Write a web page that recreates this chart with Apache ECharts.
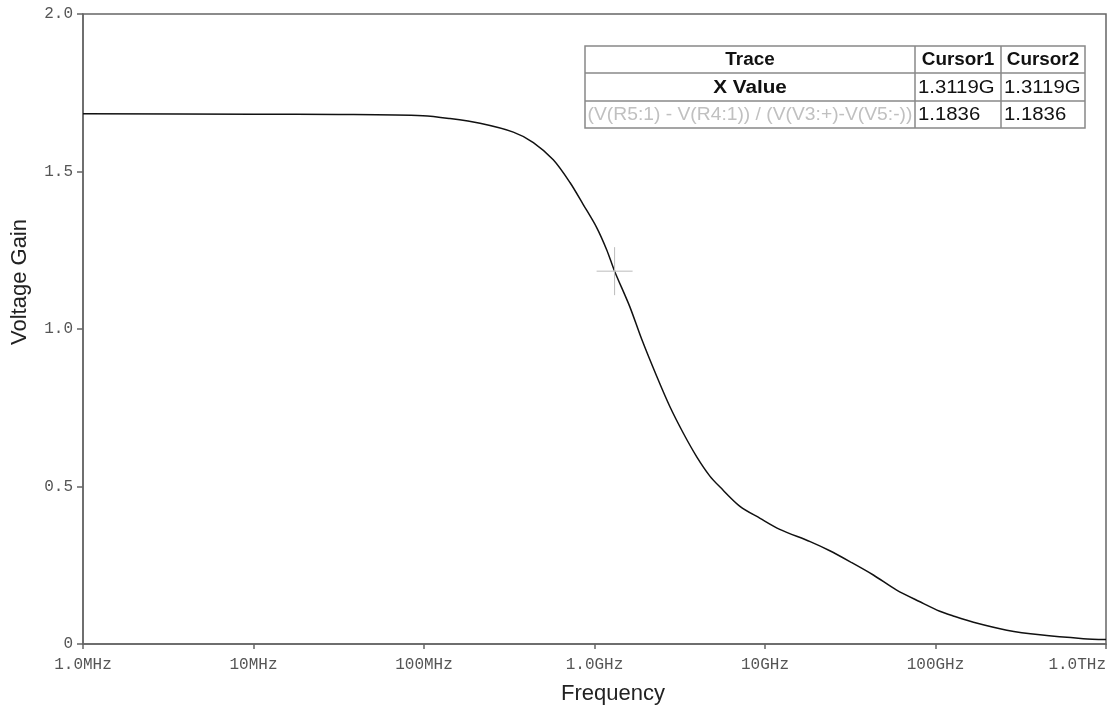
<!DOCTYPE html>
<html>
<head>
<meta charset="utf-8">
<script src="https://cdn.jsdelivr.net/npm/echarts@6/dist/echarts.min.js"></script>
<style>
html,body{margin:0;padding:0;background:#fff;}
#c{width:1113px;height:711px;}
</style>
</head>
<body>
<div id="c"></div>
<script>
// ---- data ----
const freqHz = [1e6, 1e7, 3.16e7, 9.86e7, 1.42e8, 2.13e8, 3.34e8, 4.38e8, 5.73e8, 7.18e8, 8.59e8,
  1.03e9, 1.18e9, 1.3119e9, 1.61e9, 1.89e9, 2.32e9, 2.77e9, 3.32e9, 3.97e9, 4.75e9, 5.43e9, 7.13e9,
  9.36e9, 1.22e10, 1.84e10, 2.40e10, 3.16e10, 4.32e10, 5.92e10, 8.11e10, 1.06e11, 1.27e11,
  1.67e11, 2.62e11, 4.10e11, 7.36e11, 1e12];
const gain = [1.683, 1.682, 1.681, 1.677, 1.668, 1.653, 1.625, 1.592, 1.537, 1.465, 1.395,
  1.322, 1.251, 1.1836, 1.071, 0.968, 0.849, 0.753, 0.669, 0.595, 0.533, 0.499, 0.437,
  0.399, 0.364, 0.325, 0.296, 0.261, 0.219, 0.171, 0.134, 0.104, 0.089,
  0.069, 0.044, 0.029, 0.017, 0.014];
const xTickValues = [1e6, 1e7, 1e8, 1e9, 1e10, 1e11, 1e12];
const xTickLabels = ['1.0MHz', '10MHz', '100MHz', '1.0GHz', '10GHz', '100GHz', '1.0THz'];
const yTickValues = [0, 0.5, 1.0, 1.5, 2.0];
const yTickLabels = ['0', '0.5', '1.0', '1.5', '2.0'];
const cursorX = 1.3119e9;
const cursorY = 1.1836;
const tableHeader = ['Trace', 'Cursor1', 'Cursor2'];
const tableRow1 = ['X Value', '1.3119G', '1.3119G'];
const tableRow2 = ['(V(R5:1) - V(R4:1)) / (V(V3:+)-V(V5:-))', '1.1836', '1.1836'];
const xTitle = 'Frequency';
const yTitle = 'Voltage Gain';

// ---- chart ----
const chart = echarts.init(document.getElementById('c'), null, {renderer: 'canvas'});
const axisColor = '#666';
const tickFont = {fontFamily: '"Liberation Mono", "Courier New", monospace', fontSize: 16, color: '#555'};

function xLabel(v) {
  for (let i = 0; i < xTickValues.length; i++) {
    if (Math.abs(Math.log10(v) - Math.log10(xTickValues[i])) < 1e-6) return xTickLabels[i];
  }
  return '';
}
function yLabel(v) {
  for (let i = 0; i < yTickValues.length; i++) {
    if (Math.abs(v - yTickValues[i]) < 1e-6) return yTickLabels[i];
  }
  return '';
}

const option = {
  animation: false,
  backgroundColor: '#fff',
  grid: {left: 83, right: 7, top: 14, bottom: 67, show: true, borderColor: axisColor, borderWidth: 1.5,
    containLabel: false, outerBoundsMode: 'none'},
  xAxis: {
    type: 'log', logBase: 10, min: 1e6, max: 1e12,
    axisLine: {show: true, lineStyle: {color: axisColor, width: 1.5}},
    axisTick: {show: true, inside: false, length: 5, lineStyle: {color: axisColor, width: 1.5}},
    minorTick: {show: false},
    splitLine: {show: false},
    axisLabel: Object.assign({margin: 13, formatter: xLabel, hideOverlap: false, alignMaxLabel: 'right'}, tickFont)
  },
  yAxis: {
    type: 'value', min: 0, max: 2, interval: 0.5,
    axisLine: {show: true, lineStyle: {color: axisColor, width: 1.5}},
    axisTick: {show: true, inside: false, length: 6, lineStyle: {color: axisColor, width: 1.5}},
    splitLine: {show: false},
    axisLabel: Object.assign({margin: 10, formatter: yLabel}, tickFont)
  },
  series: [{
    type: 'line',
    data: freqHz.map((f, i) => [f, gain[i]]),
    showSymbol: false,
    smooth: 0.3,
    lineStyle: {color: '#111', width: 1.5},
    z: 3
  }]
};
chart.setOption(option);

// cursor crosshair positioned via the chart's own scales
const cp = chart.convertToPixel({gridIndex: 0}, [cursorX, cursorY]);

// table layout
const colX = [585, 915, 1001, 1085];
const rowY = [46, 73, 101, 128];
const tableFont = '"Liberation Sans", Arial, sans-serif';
const rows = [tableHeader, tableRow1, tableRow2];
const graphics = [];

graphics.push({type: 'line', shape: {x1: cp[0] - 18, y1: cp[1], x2: cp[0] + 18, y2: cp[1]}, style: {stroke: '#bbb', lineWidth: 1}, z: 10});
graphics.push({type: 'line', shape: {x1: cp[0], y1: cp[1] - 24, x2: cp[0], y2: cp[1] + 24}, style: {stroke: '#bbb', lineWidth: 1}, z: 10});

graphics.push({type: 'rect', shape: {x: colX[0], y: rowY[0], width: colX[3] - colX[0], height: rowY[3] - rowY[0]}, style: {fill: '#fff', stroke: '#888', lineWidth: 1.5}, z: 20});
for (let r = 1; r < 3; r++) {
  graphics.push({type: 'line', shape: {x1: colX[0], y1: rowY[r], x2: colX[3], y2: rowY[r]}, style: {stroke: '#888', lineWidth: 1.5}, z: 21});
}
for (let c = 1; c < 3; c++) {
  graphics.push({type: 'line', shape: {x1: colX[c], y1: rowY[0], x2: colX[c], y2: rowY[3]}, style: {stroke: '#888', lineWidth: 1.5}, z: 21});
}
rows.forEach((row, r) => {
  const cy = (rowY[r] + rowY[r + 1]) / 2 + 1;
  row.forEach((txt, c) => {
    const bold = (r === 0) || (r === 1 && c === 0);
    const gray = (r === 2 && c === 0);
    const centered = (c === 0) || r === 0;
    let sx = 1.0;
    if (r === 0) sx = 1.05;
    else if (c === 0 && r === 1) sx = 1.15;
    else if (c === 0 && r === 2) sx = 1.07;
    else sx = 1.13;
    graphics.push({
      type: 'text', z: 22,
      x: centered ? (colX[c] + colX[c + 1]) / 2 : colX[c] + 3,
      y: cy,
      scaleX: sx,
      style: {
        text: txt,
        fontFamily: tableFont,
        fontSize: 18,
        fontWeight: bold ? 'bold' : 'normal',
        fill: gray ? '#c0c0c0' : '#111',
        textAlign: centered ? 'center' : 'left',
        textVerticalAlign: 'middle'
      }
    });
  });
});

// axis titles
graphics.push({type: 'text', x: 613, y: 694, z: 5, style: {text: xTitle, fontFamily: tableFont, fontSize: 22, fill: '#222', textAlign: 'center', textVerticalAlign: 'middle'}});
graphics.push({type: 'text', x: 20, y: 282, rotation: Math.PI / 2, z: 5, style: {text: yTitle, fontFamily: tableFont, fontSize: 22, fill: '#222', textAlign: 'center', textVerticalAlign: 'middle'}});

chart.setOption({graphic: {elements: graphics}});
</script>
</body>
</html>
